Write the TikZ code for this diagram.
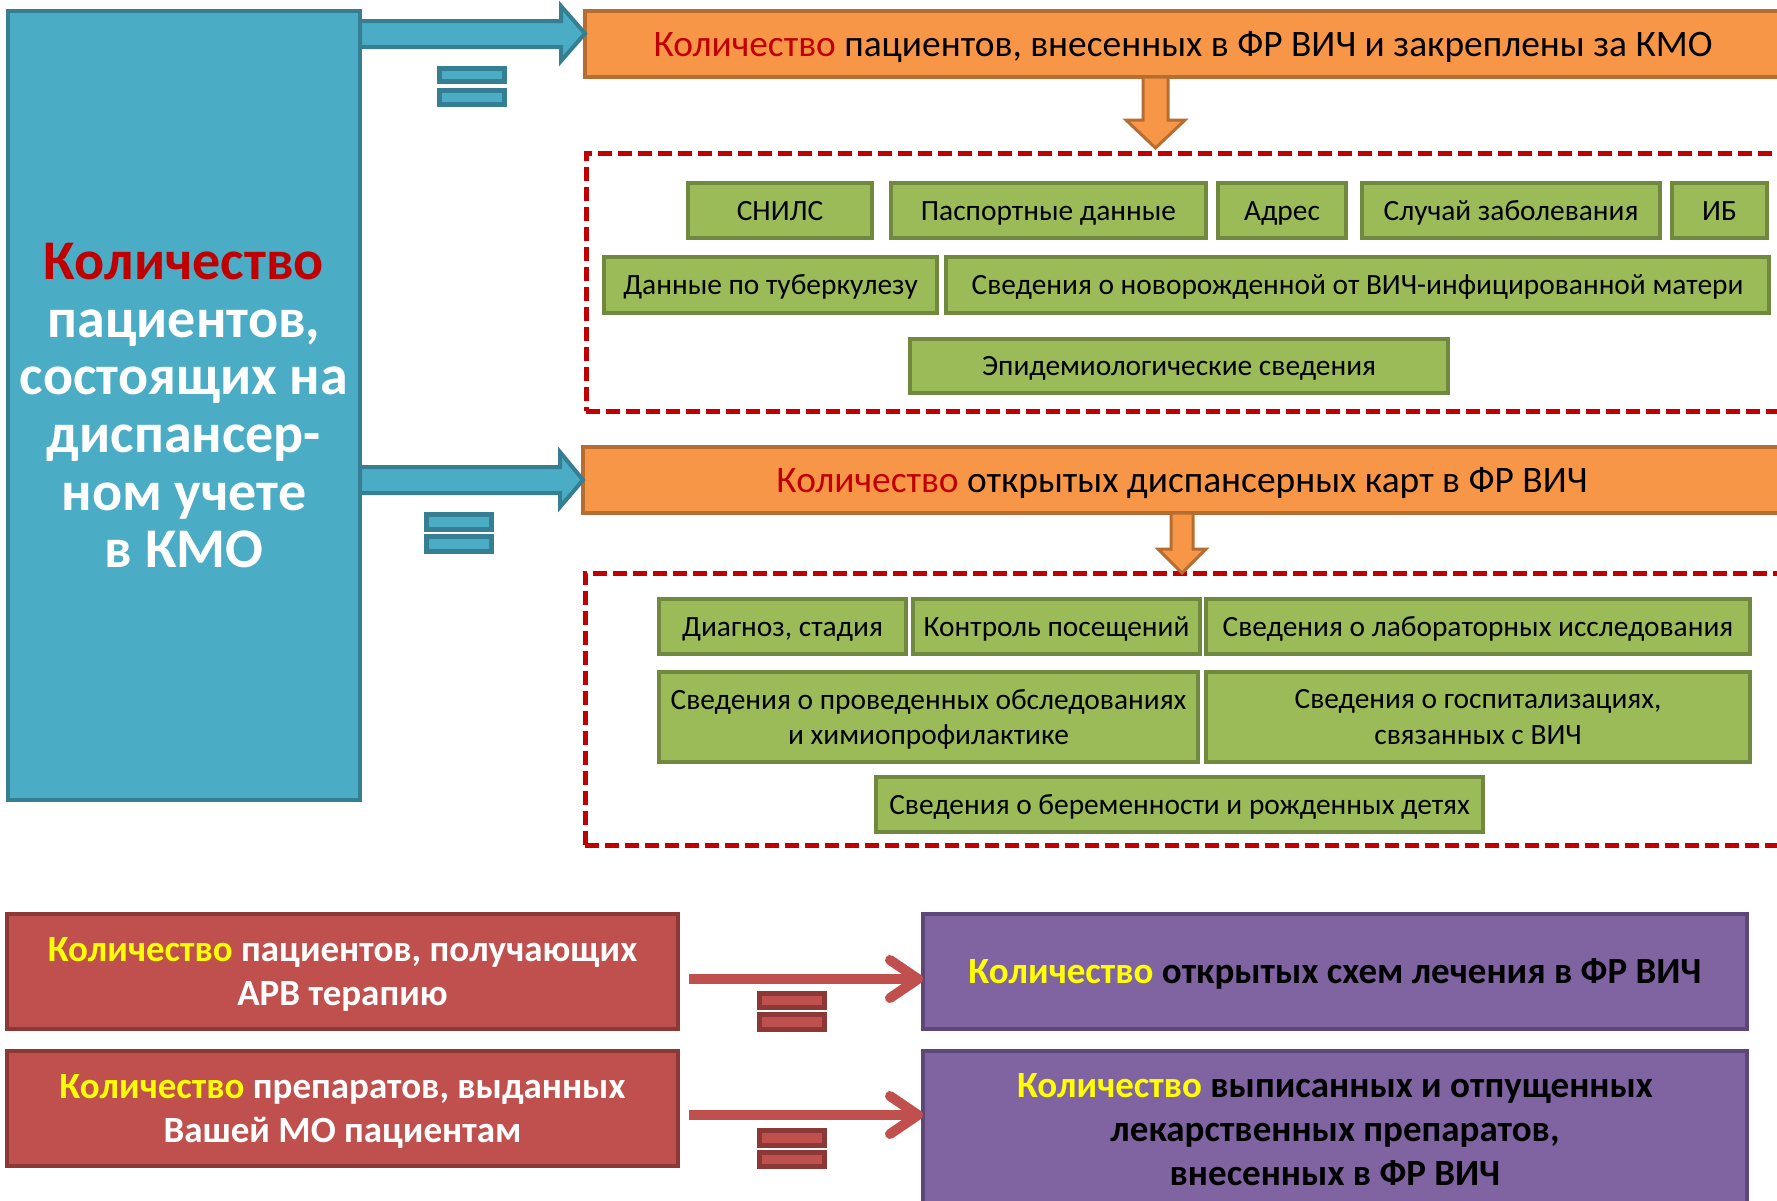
\documentclass[tikz,border=0pt]{standalone}
\usepackage{fontspec}
\setmainfont{Carlito}
\usetikzlibrary{arrows.meta,calc}
\definecolor{kmoblue}{HTML}{4BACC6}
\definecolor{kmoblueD}{HTML}{367F92}
\definecolor{frorange}{HTML}{F79646}
\definecolor{frorangeD}{HTML}{B66D31}
\definecolor{datgreen}{HTML}{9BBB59}
\definecolor{datgreenD}{HTML}{71893F}
\definecolor{arvred}{HTML}{C0504D}
\definecolor{arvredD}{HTML}{8C3836}
\definecolor{schpurple}{HTML}{8064A2}
\definecolor{schpurpleD}{HTML}{5C4776}
\definecolor{darkred}{HTML}{C00000}
\definecolor{textyellow}{HTML}{FFFF00}

\begin{document}
\begin{tikzpicture}[x=0.5pt,y=-0.5pt,
  box/.style={draw,rectangle,inner sep=2pt,outer sep=0pt,align=center,line width=2pt,text depth=0pt},
  kmobox/.style={box,fill=kmoblue,draw=kmoblueD,text=white,font=\bfseries\fontsize{28}{28.8}\selectfont},
  frbox/.style={box,fill=frorange,draw=frorangeD,font=\fontsize{18.7}{23}\selectfont,text height=12pt},
  databox/.style={box,fill=datgreen,draw=datgreenD,line width=1.6pt,font=\fontsize{14.7}{17.8}\selectfont},
  dataline/.style={databox,text height=9.5pt},
  arvbox/.style={box,fill=arvred,draw=arvredD,text=white,font=\bfseries\fontsize{18.5}{22}\selectfont},
  schbox/.style={box,fill=schpurple,draw=schpurpleD,font=\bfseries\fontsize{18.5}{22}\selectfont},
  dashgroup/.style={box,draw=darkred,line width=2.5pt,dash pattern=on 7pt off 3pt},
  blockarrow/.style={fill=kmoblue,draw=kmoblueD,line width=2pt},
  downarrow/.style={fill=frorange,draw=frorangeD,line width=1.5pt},
  thinarrow/.style={draw=arvred,line width=5pt,-{Straight Barb[length=14pt,width=19pt,round]}},
  eqblue/.style={fill=kmoblue,draw=kmoblueD,line width=2.2pt},
  eqred/.style={fill=arvred,draw=arvredD,line width=2.2pt}]
\useasboundingbox (0,0) rectangle (1777,1200);

\node[kmobox,minimum width=176pt,minimum height=394.5pt] (kmo) at (184,405.5) {\textcolor{darkred}{Количество}\\пациентов,\\состоящих на\\диспансер-\\ном учете\\в КМО};

\node[frbox,minimum width=598pt,minimum height=33pt] (frA) at (1183,44) {\textcolor{darkred}{Количество} пациентов, внесенных в ФР ВИЧ и закреплены за КМО};
\node[dashgroup,minimum width=602pt,minimum height=129pt] (grpA) at (1188,282) {};
\node[dataline,minimum width=92pt,minimum height=27.5pt] (snils) at (780,210.5) {СНИЛС};
\node[dataline,minimum width=157.5pt,minimum height=27.5pt] (pasp) at (1048.5,210.5) {Паспортные данные};
\node[dataline,minimum width=64pt,minimum height=27.5pt] (addr) at (1282,210.5) {Адрес};
\node[dataline,minimum width=149pt,minimum height=27.5pt] (case) at (1511,210.5) {Случай заболевания};
\node[dataline,minimum width=47.5pt,minimum height=27.5pt] (ib) at (1719.5,210.5) {ИБ};
\node[dataline,minimum width=166.5pt,minimum height=28pt] (tb) at (770.5,285) {Данные по туберкулезу};
\node[dataline,minimum width=411.5pt,minimum height=28pt] (newb) at (1357.5,285) {Сведения о новорожденной от ВИЧ-инфицированной матери};
\node[dataline,minimum width=269pt,minimum height=27pt] (epid) at (1179,366) {Эпидемиологические сведения};

\node[frbox,minimum width=599pt,minimum height=33pt] (frB) at (1182,480) {\textcolor{darkred}{Количество} открытых диспансерных карт в ФР ВИЧ};
\node[dashgroup,minimum width=602.5pt,minimum height=136pt] (grpB) at (1187.5,709) {};
\node[dataline,minimum width=123.5pt,minimum height=27.5pt] (diag) at (782.5,626.5) {Диагноз, стадия};
\node[dataline,minimum width=143.5pt,minimum height=27.5pt] (visit) at (1056.5,626.5) {Контроль посещений};
\node[dataline,minimum width=272pt,minimum height=27.5pt] (lab) at (1478,626.5) {Сведения о лабораторных исследования};
\node[databox,minimum width=269.5pt,minimum height=45pt] (exam) at (928.5,717) {Сведения о проведенных обследованиях\\и химиопрофилактике};
\node[databox,minimum width=272pt,minimum height=45pt] (hosp) at (1478,717) {Сведения о госпитализациях,\\связанных с ВИЧ};
\node[dataline,minimum width=303.5pt,minimum height=27.5pt] (preg) at (1179.5,804.5) {Сведения о беременности и рожденных детях};

\node[arvbox,minimum width=335.5pt,minimum height=57.5pt] (arv) at (342.5,971.5) {\textcolor{textyellow}{Количество} пациентов, получающих\\АРВ терапию};
\node[arvbox,minimum width=335.5pt,minimum height=57.5pt] (drg) at (342.5,1108.5) {\textcolor{textyellow}{Количество} препаратов, выданных\\Вашей МО пациентам};
\node[schbox,minimum width=412pt,minimum height=57.5pt,text height=11.9pt] (sch) at (1335,971.5) {\textcolor{textyellow}{Количество} открытых схем лечения в ФР ВИЧ};
\node[schbox,minimum width=412pt,minimum height=78pt] (iss) at (1335,1129) {\textcolor{textyellow}{Количество} выписанных и отпущенных\\лекарственных препаратов,\\внесенных в ФР ВИЧ};

\draw[blockarrow] (kmo.east |- 0,21) -- (561,21) -- (561,6) -- (frA.west |- 0,33.5) -- (561,61) -- (561,47) -- (kmo.east |- 0,47) -- cycle;
\draw[blockarrow] (kmo.east |- 0,467) -- (560,467) -- (560,452) -- (frB.west) -- (560,507) -- (560,493) -- (kmo.east |- 0,493) -- cycle;
\draw[eqblue] (439.5,68.5) rectangle (504.5,81.5);
\draw[eqblue] (439.5,90.5) rectangle (504.5,104.5);
\draw[eqblue] (426.5,514.5) rectangle (491.5,529.5);
\draw[eqblue] (426.5,536.5) rectangle (491.5,551.5);

\draw[downarrow] ($(frA.south)+(-40,0)$) -- ++(0,43) -- ++(-17,0) -- ++(29.5,28) -- ++(29.5,-28) -- ++(-17,0) -- ++(0,-43) -- cycle;
\draw[downarrow] ($(frB.south)+(-11,0)$) -- ++(0,36) -- ++(-13,0) -- ++(24,24) -- ++(24,-24) -- ++(-13,0) -- ++(0,-36) -- cycle;

\coordinate (ra) at ($(arv.east)+(11,7.5)$);
\draw[thinarrow] (ra) -- (ra -| sch.west);
\coordinate (rb) at ($(drg.east)+(11,6.5)$);
\draw[thinarrow] (rb) -- (rb -| iss.west);
\draw[eqred] (759.5,993.5) rectangle (824.5,1007.5);
\draw[eqred] (759.5,1014.5) rectangle (824.5,1029.5);
\draw[eqred] (759.5,1130.5) rectangle (824.5,1145.5);
\draw[eqred] (759.5,1152.5) rectangle (824.5,1166.5);
\end{tikzpicture}
\end{document}
